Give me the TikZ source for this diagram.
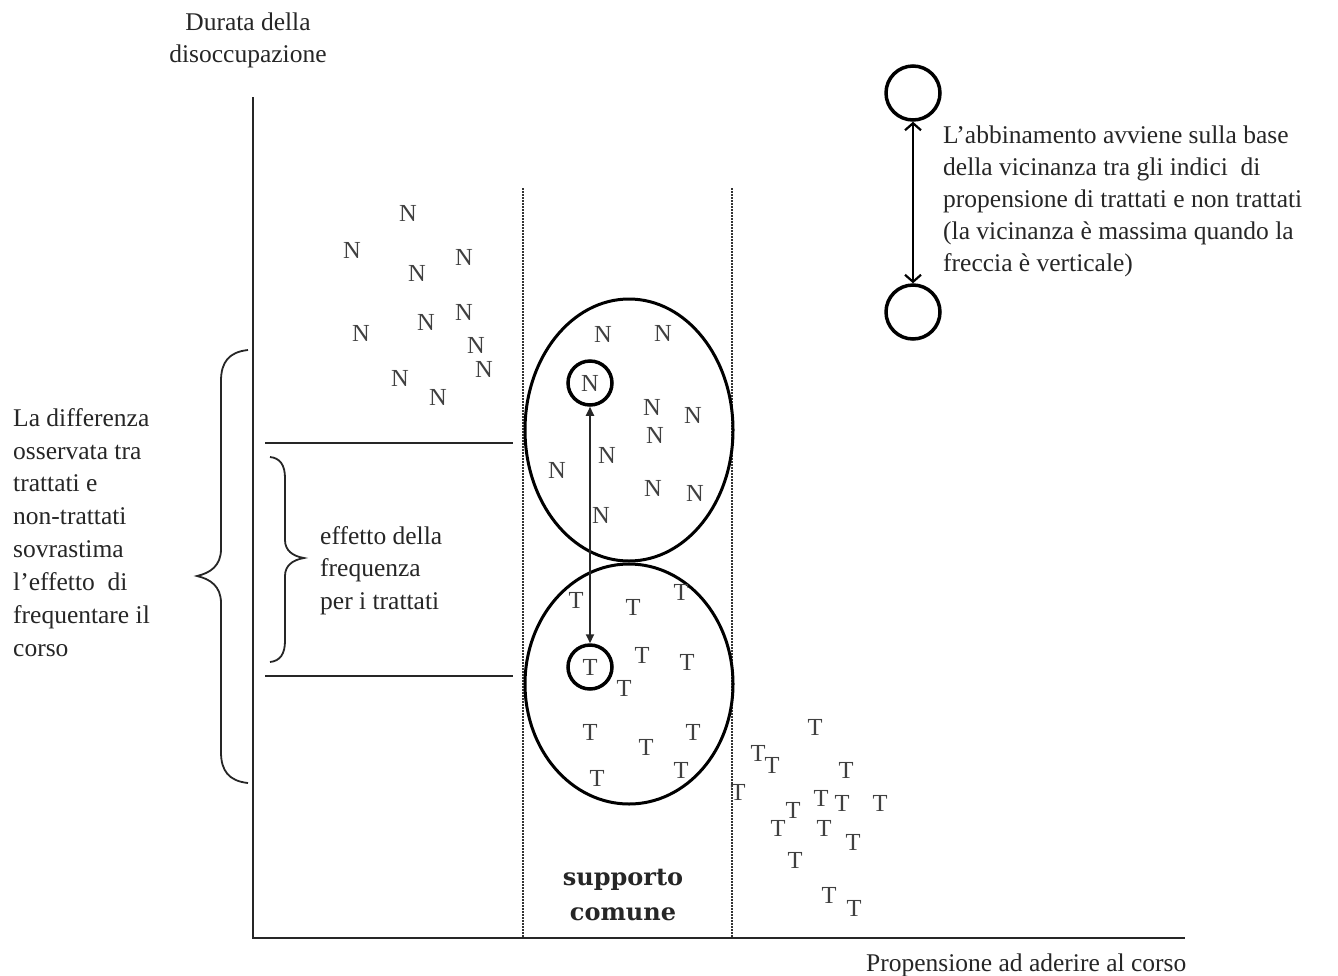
\documentclass[tikz,border=0pt]{standalone}
\usepackage{fontspec}
\setmainfont{Liberation Serif}
\newfontfamily\boldserif{DejaVu Serif}
\usetikzlibrary{arrows.meta,shapes.geometric}

\tikzset{
  txt/.style={inner sep=0pt, text=black!85, font=\fontsize{25.5}{32.5}\selectfont, align=left},
  ltr/.style={inner sep=0pt, text=black!75, font=\fontsize{24.5}{24.5}\selectfont},
  axis/.style={line width=2.2pt, draw=black!85},
  sep/.style={line width=1.8pt, draw=black!85},
  bound/.style={line width=2pt, draw=black!80, densely dotted},
  pool/.style={ellipse, draw=black, line width=3pt, inner sep=0pt},
  pick/.style={circle, draw=black, line width=3.5pt, inner sep=0pt, minimum size=44pt},
  ring/.style={circle, draw=black, line width=3.5pt, inner sep=0pt, minimum size=54pt},
  brace/.style={line width=1.8pt, draw=black!85},
  link/.style={line width=1.8pt, draw=black!85, {Triangle[length=9pt,width=8pt]}-{Triangle[length=9pt,width=8pt]}},
  legendlink/.style={line width=2.2pt, draw=black, {Straight Barb[length=7pt,width=16pt]}-{Straight Barb[length=7pt,width=16pt]}}
}

\begin{document}
\begin{tikzpicture}[x=1pt, y=-1pt]
\useasboundingbox (0,0) rectangle (1338,975);

% axes
\coordinate (ytop) at (253,97);
\coordinate (O) at (253,938);
\coordinate (xend) at (1185,938);
\draw[axis] (ytop) -- (O) -- (xend);

\node[txt, align=center, anchor=north, font=\fontsize{25.5}{31.5}\selectfont] (ylab) at (248,13) {Durata della\\disoccupazione};
\node[txt, anchor=north west] (xlab) at (866,954) {Propensione ad aderire al corso};

% common-support boundaries
\coordinate (b1top) at (523,188);
\coordinate (b1bot) at (523,938);
\coordinate (b2top) at (732,188);
\coordinate (b2bot) at (732,938);
\draw[bound] (b1top) -- (b1bot);
\draw[bound] (b2top) -- (b2bot);

% outcome levels
\coordinate (h1a) at (265,443);
\coordinate (h1b) at (513,443);
\coordinate (h2a) at (265,676);
\coordinate (h2b) at (513,676);
\draw[sep] (h1a) -- (h1b);
\draw[sep] (h2a) -- (h2b);

% braces
\draw[brace] (248,350) .. controls (229,352) and (221,362) .. (221,381) -- (221,549)
  .. controls (221,566) and (210,573) .. (197,576)
  .. controls (210,579) and (221,586) .. (221,603) -- (221,752)
  .. controls (221,771) and (229,781) .. (248,783);
\draw[brace] (270,457) .. controls (280,458) and (285,465) .. (285,478) -- (285,540)
  .. controls (285,550) and (292,556) .. (304,558)
  .. controls (292,560) and (285,566) .. (285,576) -- (285,641)
  .. controls (285,654) and (280,661) .. (270,662);

\node[txt, anchor=north west, font=\fontsize{25.5}{32.9}\selectfont] (diff) at (13,408) {La differenza\\osservata tra\\trattati e\\non-trattati\\sovrastima\\l’effetto\ \ di\\frequentare il\\corso};
\node[txt, anchor=north west] (eff) at (320,526) {effetto della\\frequenza\\per i trattati};

% pools inside the common support
\node[pool, minimum width=208pt, minimum height=262pt] (poolN) at (629,430) {};
\node[pool, minimum width=208pt, minimum height=240pt] (poolT) at (629,684) {};

\node[txt, font=\boldserif\bfseries\fontsize{24}{35}\selectfont, align=center, anchor=north] (sc) at (623,869) {supporto\\comune};

% non-treated outside the support
\foreach \x/\y [count=\i] in {408/213,352/250,464/257,417/273,464/312,426/322,361/333,476/345,484/369,400/378,438/397}
  \node[ltr] (no\i) at (\x,\y) {N};
% non-treated inside the support
\foreach \x/\y [count=\i] in {603/334,663/333,652/407,693/415,655/435,607/455,557/470,653/488,695/493,601/515}
  \node[ltr] (ni\i) at (\x,\y) {N};
% treated inside the support
\foreach \x/\y [count=\i] in {576/600,633/607,681/592,642/655,687/662,624/688,590/732,646/747,693/732,597/778,681/770}
  \node[ltr] (ti\i) at (\x,\y) {T};
% treated outside the support
\foreach \x/\y [count=\i] in {815/727,758/753,772/765,738/792,846/770,821/798,842/803,880/803,793/810,778/828,824/828,853/842,795/860,829/895,854/908}
  \node[ltr] (to\i) at (\x,\y) {T};

% matched pair
\node[pick, ltr, text=black!75] (cN) at (590,383) {N};
\node[pick, ltr, text=black!75] (cT) at (590,667) {T};
\draw[link] (cN) -- (cT);

% legend
\node[ring] (r1) at (913,93) {};
\node[ring] (r2) at (913,312) {};
\draw[legendlink] (r1) -- (r2);
\node[txt, anchor=north west, font=\fontsize{25.5}{32}\selectfont] (leg) at (943,126) {L’abbinamento avviene sulla base\\della vicinanza tra gli indici\ \ di\\propensione di trattati e non trattati\\(la vicinanza è massima quando la\\freccia è verticale)};
\end{tikzpicture}
\end{document}
